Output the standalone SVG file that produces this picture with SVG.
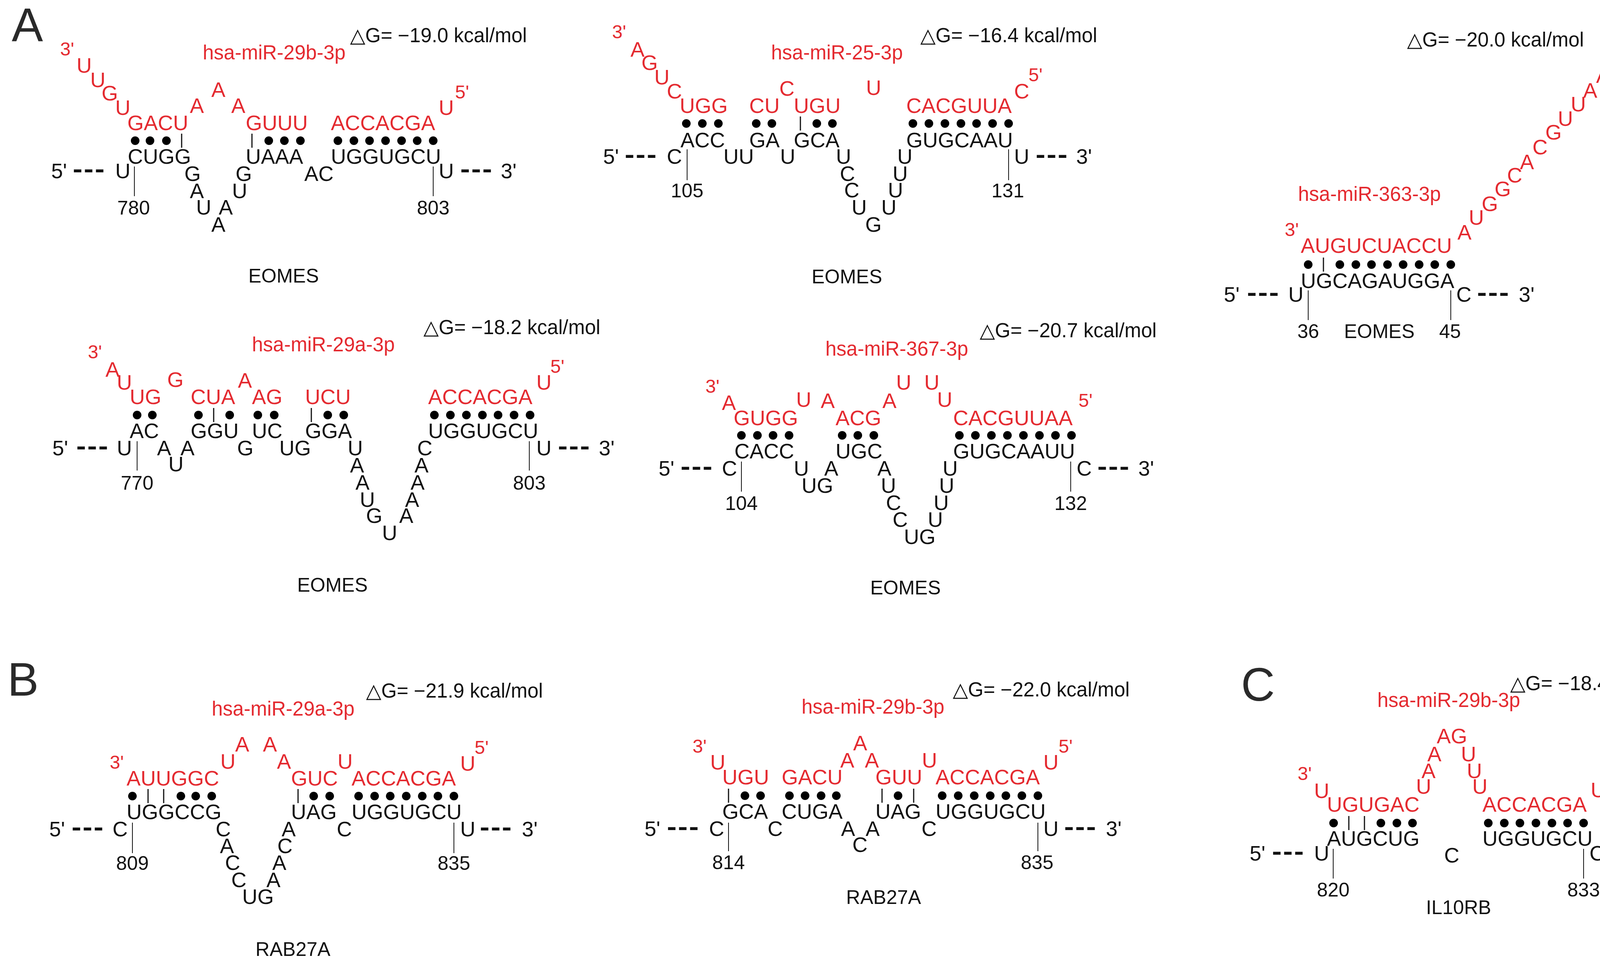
<svg xmlns="http://www.w3.org/2000/svg" width="4342" height="2459" viewBox="0 0 4342 2459">
<style>
text{font-family:"Liberation Sans",Arial,sans-serif;font-size:54px;fill:#111}
.r{fill:#e42a30}
.s{font-size:48px}
.m{text-anchor:middle;font-size:50px}
.g{font-size:51px}
.p{font-size:120px;fill:#2a2a2a}
.d{font-size:70px;letter-spacing:5px;stroke:#111;stroke-width:2}
line{stroke:#111;stroke-width:3}
.tk{stroke-width:2}
circle{fill:#000}
</style>
<rect width="4342" height="2459" fill="#fff"/>
<text class="p" x="30" y="105">A</text>
<text class="p" x="19" y="1780">B</text>
<text class="p" x="3177" y="1793">C</text>

<g id="A1">
<text class="g" x="896" y="108">△G= −19.0 kcal/mol</text>
<text class="r g" x="519" y="152">hsa-miR-29b-3p</text>
<text class="r s" x="154" y="142">3'</text>
<text class="r" x="196" y="186">U</text><text class="r" x="231" y="223">U</text><text class="r" x="260" y="257">G</text><text class="r" x="295" y="294">U</text>
<text class="r" x="326" y="333">GACU</text>
<text class="r" x="486" y="289">A</text><text class="r" x="541" y="248">A</text><text class="r" x="592" y="289">A</text>
<text class="r" x="629" y="333">GUUU</text>
<text class="r" x="847" y="333">ACCACGA</text>
<text class="r" x="1123" y="294">U</text><text class="r s" x="1165" y="252">5'</text>
<g><circle cx="346" cy="360" r="11"/><circle cx="384" cy="360" r="11"/><circle cx="426" cy="360" r="11"/><line x1="465" y1="342" x2="465" y2="378"/><line x1="645" y1="342" x2="645" y2="378"/><circle cx="688" cy="360" r="11"/><circle cx="728" cy="360" r="11"/><circle cx="769" cy="360" r="11"/><circle cx="865" cy="360" r="11"/><circle cx="906" cy="360" r="11"/><circle cx="946" cy="360" r="11"/><circle cx="987" cy="360" r="11"/><circle cx="1028" cy="360" r="11"/><circle cx="1068" cy="360" r="11"/><circle cx="1109" cy="360" r="11"/></g>
<text x="327" y="419">CUGG</text><text x="629" y="419">UAAA</text><text x="847" y="419">UGGUGCU</text>
<text x="131" y="456">5'</text><text class="d" x="187" y="456">---</text><text x="295" y="456">U</text>
<text x="472" y="463">G</text><text x="603" y="463">G</text><text x="779" y="463">AC</text>
<text x="486" y="507">A</text><text x="594" y="507">U</text>
<text x="502" y="549">U</text><text x="560" y="549">A</text>
<text x="541" y="593">A</text>
<text x="1123" y="456">U</text><text class="d" x="1179" y="456">---</text><text x="1282" y="456">3'</text>
<line class="tk" x1="344" y1="426" x2="344" y2="502"/><line class="tk" x1="1109" y1="426" x2="1109" y2="502"/>
<text class="m" x="342" y="549">780</text><text class="m" x="1109" y="549">803</text>
<text class="m" x="726" y="723">EOMES</text>
</g>

<g id="A2">
<text class="g" x="2356" y="108">△G= −16.4 kcal/mol</text>
<text class="r g" x="1974" y="152">hsa-miR-25-3p</text>
<text class="r s" x="1567" y="98">3'</text>
<text class="r" x="1614" y="145">A</text><text class="r" x="1642" y="179">G</text><text class="r" x="1675" y="216">U</text><text class="r" x="1707" y="252">C</text>
<text class="r" x="1740" y="289">UGG</text><text class="r" x="1918" y="289">CU</text><text class="r" x="2032" y="289">UGU</text>
<text class="r" x="1995" y="245">C</text><text class="r" x="2217" y="243">U</text>
<text class="r" x="2320" y="289">CACGUUA</text>
<text class="r" x="2596" y="252">C</text><text class="r s" x="2633" y="208">5'</text>
<g><circle cx="1757" cy="316" r="11"/><circle cx="1798" cy="316" r="11"/><circle cx="1839" cy="316" r="11"/><circle cx="1936" cy="316" r="11"/><circle cx="1976" cy="316" r="11"/><line x1="2049" y1="298" x2="2049" y2="334"/><circle cx="2091" cy="316" r="11"/><circle cx="2131" cy="316" r="11"/><circle cx="2337" cy="316" r="11"/><circle cx="2378" cy="316" r="11"/><circle cx="2419" cy="316" r="11"/><circle cx="2460" cy="316" r="11"/><circle cx="2500" cy="316" r="11"/><circle cx="2541" cy="316" r="11"/><circle cx="2582" cy="316" r="11"/></g>
<text x="1742" y="377">ACC</text><text x="1918" y="377">GA</text><text x="2032" y="377">GCA</text><text x="2320" y="377">GUGCAAU</text>
<text x="1544" y="419">5'</text><text class="d" x="1600" y="419">---</text><text x="1707" y="419">C</text>
<text x="1852" y="419">UU</text><text x="1997" y="419">U</text><text x="2140" y="419">U</text><text x="2297" y="419">U</text>
<text x="2150" y="463">C</text><text x="2285" y="463">U</text>
<text x="2161" y="505">C</text><text x="2273" y="505">U</text>
<text x="2180" y="549">U</text><text x="2256" y="549">U</text>
<text x="2215" y="593">G</text>
<text x="2596" y="419">U</text><text class="d" x="2652" y="419">---</text><text x="2755" y="419">3'</text>
<line class="tk" x1="1759" y1="382" x2="1759" y2="461"/><line class="tk" x1="2582" y1="382" x2="2582" y2="461"/>
<text class="m" x="1759" y="505">105</text><text class="m" x="2580" y="505">131</text>
<text class="m" x="2168" y="725">EOMES</text>
</g>

<g id="A3">
<text class="g" x="3602" y="119">△G= −20.0 kcal/mol</text>
<text class="r s" x="4123" y="168">5'</text>
<text class="r" x="4086" y="212">A</text><text class="r" x="4053" y="250">A</text><text class="r" x="4021" y="285">U</text><text class="r" x="3988" y="322">U</text><text class="r" x="3956" y="357">G</text><text class="r" x="3923" y="395">C</text><text class="r" x="3891" y="433">A</text><text class="r" x="3858" y="467">C</text><text class="r" x="3826" y="502">G</text><text class="r" x="3793" y="540">G</text><text class="r" x="3760" y="575">U</text><text class="r" x="3731" y="613">A</text>
<text class="r g" x="3323" y="514">hsa-miR-363-3p</text>
<text class="r s" x="3289" y="604">3'</text>
<text class="r" x="3330" y="647">AUGUCUACCU</text>
<g><circle cx="3349" cy="677" r="11"/><line x1="3388" y1="659" x2="3388" y2="695"/><circle cx="3430" cy="677" r="11"/><circle cx="3471" cy="677" r="11"/><circle cx="3511" cy="677" r="11"/><circle cx="3552" cy="677" r="11"/><circle cx="3592" cy="677" r="11"/><circle cx="3633" cy="677" r="11"/><circle cx="3673" cy="677" r="11"/><circle cx="3714" cy="677" r="11"/></g>
<text x="3330" y="737">UGCAGAUGGA</text>
<text x="3133" y="772">5'</text><text class="d" x="3193" y="772">---</text><text x="3298" y="772">U</text>
<text x="3728" y="772">C</text><text class="d" x="3782" y="772">---</text><text x="3888" y="772">3'</text>
<line class="tk" x1="3349" y1="743" x2="3349" y2="819"/><line class="tk" x1="3714" y1="743" x2="3714" y2="819"/>
<text class="m" x="3349" y="865">36</text><text class="m" x="3531" y="865">EOMES</text><text class="m" x="3712" y="865">45</text>
</g>

<g id="A4">
<text class="g" x="1084" y="855">△G= −18.2 kcal/mol</text>
<text class="r g" x="645" y="899">hsa-miR-29a-3p</text>
<text class="r s" x="225" y="917">3'</text>
<text class="r" x="270" y="964">A</text><text class="r" x="299" y="997">U</text><text class="r" x="428" y="990">G</text><text class="r" x="609" y="992">A</text>
<text class="r" x="1373" y="997">U</text><text class="r s" x="1409" y="954">5'</text>
<text class="r" x="332" y="1034">UG</text><text class="r" x="488" y="1034">CUA</text><text class="r" x="645" y="1034">AG</text><text class="r" x="781" y="1034">UCU</text><text class="r" x="1096" y="1034">ACCACGA</text>
<g><circle cx="351" cy="1062" r="11"/><circle cx="390" cy="1062" r="11"/><circle cx="508" cy="1062" r="11"/><line x1="547" y1="1044" x2="547" y2="1080"/><circle cx="588" cy="1062" r="11"/><circle cx="660" cy="1062" r="11"/><circle cx="702" cy="1062" r="11"/><line x1="797" y1="1044" x2="797" y2="1080"/><circle cx="839" cy="1062" r="11"/><circle cx="880" cy="1062" r="11"/><circle cx="1112" cy="1062" r="11"/><circle cx="1153" cy="1062" r="11"/><circle cx="1194" cy="1062" r="11"/><circle cx="1235" cy="1062" r="11"/><circle cx="1275" cy="1062" r="11"/><circle cx="1316" cy="1062" r="11"/><circle cx="1357" cy="1062" r="11"/></g>
<text x="332" y="1121">AC</text><text x="488" y="1121">GGU</text><text x="645" y="1121">UC</text><text x="781" y="1121">GGA</text><text x="1096" y="1121">UGGUGCU</text>
<text x="134" y="1165">5'</text><text class="d" x="196" y="1165">---</text><text x="299" y="1165">U</text>
<text x="402" y="1165">A</text><text x="462" y="1165">A</text><text x="607" y="1165">G</text><text x="715" y="1165">UG</text><text x="890" y="1165">U</text><text x="1068" y="1165">C</text>
<text x="1373" y="1165">U</text><text class="d" x="1429" y="1165">---</text><text x="1533" y="1165">3'</text>
<text x="431" y="1206">U</text><text x="896" y="1209">A</text><text x="1061" y="1209">A</text>
<text x="910" y="1253">A</text><text x="1051" y="1253">A</text>
<text x="921" y="1297">U</text><text x="1037" y="1297">A</text>
<text x="937" y="1338">G</text><text x="1022" y="1338">A</text>
<text x="978" y="1382">U</text>
<line class="tk" x1="351" y1="1129" x2="351" y2="1204"/><line class="tk" x1="1355" y1="1129" x2="1355" y2="1204"/>
<text class="m" x="351" y="1253">770</text><text class="m" x="1355" y="1253">803</text>
<text class="m" x="851" y="1514">EOMES</text>
</g>

<g id="A5">
<text class="g" x="2508" y="863">△G= −20.7 kcal/mol</text>
<text class="r g" x="2113" y="910">hsa-miR-367-3p</text>
<text class="r s" x="1806" y="1005">3'</text>
<text class="r" x="1848" y="1049">A</text><text class="r" x="2038" y="1041">U</text><text class="r" x="2101" y="1044">A</text><text class="r" x="2294" y="997">U</text><text class="r" x="2366" y="997">U</text><text class="r" x="2259" y="1044">A</text><text class="r" x="2399" y="1041">U</text>
<text class="r s" x="2761" y="1041">5'</text>
<text class="r" x="1878" y="1088">GUGG</text><text class="r" x="2139" y="1088">ACG</text><text class="r" x="2440" y="1088">CACGUUAA</text>
<g><circle cx="1898" cy="1114" r="11"/><circle cx="1939" cy="1114" r="11"/><circle cx="1979" cy="1114" r="11"/><circle cx="2020" cy="1114" r="11"/><circle cx="2156" cy="1114" r="11"/><circle cx="2196" cy="1114" r="11"/><circle cx="2237" cy="1114" r="11"/><circle cx="2456" cy="1114" r="11"/><circle cx="2497" cy="1114" r="11"/><circle cx="2538" cy="1114" r="11"/><circle cx="2579" cy="1114" r="11"/><circle cx="2620" cy="1114" r="11"/><circle cx="2661" cy="1114" r="11"/><circle cx="2702" cy="1114" r="11"/><circle cx="2743" cy="1114" r="11"/></g>
<text x="1880" y="1173">CACC</text><text x="2139" y="1173">UGC</text><text x="2440" y="1173">GUGCAAUU</text>
<text x="1686" y="1217">5'</text><text class="d" x="1743" y="1217">---</text><text x="1848" y="1217">C</text>
<text x="2032" y="1217">U</text><text x="2110" y="1217">A</text><text x="2246" y="1217">A</text><text x="2413" y="1217">U</text>
<text x="2756" y="1217">C</text><text class="d" x="2810" y="1217">---</text><text x="2914" y="1217">3'</text>
<text x="2052" y="1261">UG</text><text x="2255" y="1261">U</text><text x="2404" y="1261">U</text>
<text x="2268" y="1305">C</text><text x="2390" y="1305">U</text>
<text x="2285" y="1348">C</text><text x="2375" y="1348">U</text>
<text x="2314" y="1392">UG</text>
<line class="tk" x1="1898" y1="1181" x2="1898" y2="1258"/><line class="tk" x1="2741" y1="1181" x2="2741" y2="1258"/>
<text class="m" x="1898" y="1305">104</text><text class="m" x="2741" y="1305">132</text>
<text class="m" x="2318" y="1521">EOMES</text>
</g>

<g id="B1">
<text class="g" x="937" y="1785">△G= −21.9 kcal/mol</text>
<text class="r g" x="542" y="1831">hsa-miR-29a-3p</text>
<text class="r s" x="281" y="1967">3'</text>
<text class="r" x="602" y="1923">A</text><text class="r" x="673" y="1923">A</text>
<text class="r" x="564" y="1967">U</text><text class="r" x="709" y="1967">A</text><text class="r" x="864" y="1967">U</text><text class="r" x="1178" y="1972">U</text><text class="r s" x="1215" y="1929">5'</text>
<text class="r" x="324" y="2010">AUUGGC</text><text class="r" x="745" y="2010">GUC</text><text class="r" x="900" y="2010">ACCACGA</text>
<g><circle cx="339" cy="2037" r="11"/><line x1="379" y1="2019" x2="379" y2="2055"/><line x1="419" y1="2019" x2="419" y2="2055"/><circle cx="463" cy="2037" r="11"/><circle cx="501" cy="2037" r="11"/><circle cx="542" cy="2037" r="11"/><line x1="763" y1="2019" x2="763" y2="2055"/><circle cx="803" cy="2037" r="11"/><circle cx="844" cy="2037" r="11"/><circle cx="918" cy="2037" r="11"/><circle cx="959" cy="2037" r="11"/><circle cx="999" cy="2037" r="11"/><circle cx="1040" cy="2037" r="11"/><circle cx="1081" cy="2037" r="11"/><circle cx="1121" cy="2037" r="11"/><circle cx="1162" cy="2037" r="11"/></g>
<text x="324" y="2096">UGGCCG</text><text x="745" y="2096">UAG</text><text x="900" y="2096">UGGUGCU</text>
<text x="126" y="2140">5'</text><text class="d" x="184" y="2140">---</text><text x="288" y="2140">C</text>
<text x="552" y="2140">C</text><text x="721" y="2140">A</text><text x="862" y="2140">C</text>
<text x="1178" y="2140">U</text><text class="d" x="1229" y="2140">---</text><text x="1336" y="2140">3'</text>
<text x="563" y="2183">A</text><text x="710" y="2183">C</text>
<text x="576" y="2226">C</text><text x="697" y="2226">A</text>
<text x="592" y="2270">C</text><text x="682" y="2270">A</text>
<text x="620" y="2313">UG</text>
<line class="tk" x1="339" y1="2105" x2="339" y2="2183"/><line class="tk" x1="1162" y1="2105" x2="1162" y2="2183"/>
<text class="m" x="339" y="2226">809</text><text class="m" x="1162" y="2226">835</text>
<text class="m" x="750" y="2446">RAB27A</text>
</g>

<g id="B2">
<text class="g" x="2439" y="1782">△G= −22.0 kcal/mol</text>
<text class="r g" x="2052" y="1826">hsa-miR-29b-3p</text>
<text class="r s" x="1773" y="1926">3'</text>
<text class="r" x="1818" y="1969">U</text>
<text class="r" x="2184" y="1920">A</text><text class="r" x="2151" y="1964">A</text><text class="r" x="2214" y="1964">A</text><text class="r" x="2360" y="1964">U</text>
<text class="r" x="2671" y="1969">U</text><text class="r s" x="2710" y="1926">5'</text>
<text class="r" x="1849" y="2007">UGU</text><text class="r" x="2001" y="2007">GACU</text><text class="r" x="2241" y="2007">GUU</text><text class="r" x="2395" y="2007">ACCACGA</text>
<g><line x1="1865" y1="2018" x2="1865" y2="2054"/><circle cx="1907" cy="2036" r="11"/><circle cx="1947" cy="2036" r="11"/><circle cx="2021" cy="2036" r="11"/><circle cx="2061" cy="2036" r="11"/><circle cx="2102" cy="2036" r="11"/><circle cx="2141" cy="2036" r="11"/><line x1="2258" y1="2018" x2="2258" y2="2054"/><circle cx="2299" cy="2036" r="11"/><line x1="2339" y1="2018" x2="2339" y2="2054"/><circle cx="2412" cy="2036" r="11"/><circle cx="2453" cy="2036" r="11"/><circle cx="2494" cy="2036" r="11"/><circle cx="2535" cy="2036" r="11"/><circle cx="2575" cy="2036" r="11"/><circle cx="2616" cy="2036" r="11"/><circle cx="2657" cy="2036" r="11"/></g>
<text x="1849" y="2095">GCA</text><text x="2001" y="2095">CUGA</text><text x="2241" y="2095">UAG</text><text x="2395" y="2095">UGGUGCU</text>
<text x="1650" y="2139">5'</text><text class="d" x="1708" y="2139">---</text><text x="1815" y="2139">C</text>
<text x="1965" y="2139">C</text><text x="2153" y="2139">A</text><text x="2216" y="2139">A</text><text x="2359" y="2139">C</text>
<text x="2671" y="2139">U</text><text class="d" x="2725" y="2139">---</text><text x="2831" y="2139">3'</text>
<text x="2182" y="2180">C</text>
<line class="tk" x1="1865" y1="2105" x2="1865" y2="2178"/><line class="tk" x1="2657" y1="2105" x2="2657" y2="2178"/>
<text class="m" x="1865" y="2224">814</text><text class="m" x="2655" y="2224">835</text>
<text class="m" x="2262" y="2313">RAB27A</text>
</g>

<g id="C1">
<text class="g" x="3866" y="1766">△G= −18.4 kcal/mol</text>
<text class="r g" x="3526" y="1809">hsa-miR-29b-3p</text>
<text class="r" x="3678" y="1902">AG</text>
<text class="r" x="3654" y="1948">A</text><text class="r" x="3740" y="1948">U</text>
<text class="r" x="3639" y="1991">A</text><text class="r" x="3755" y="1991">U</text>
<text class="r s" x="3322" y="1996">3'</text><text class="r s" x="4108" y="1996">5'</text>
<text class="r" x="3364" y="2042">U</text><text class="r" x="3625" y="2031">U</text><text class="r" x="3769" y="2031">U</text><text class="r" x="4072" y="2040">U</text>
<text class="r" x="3397" y="2077">UGUGAC</text><text class="r" x="3795" y="2077">ACCACGA</text>
<g><circle cx="3414" cy="2106" r="11"/><line x1="3453" y1="2088" x2="3453" y2="2124"/><line x1="3493" y1="2088" x2="3493" y2="2124"/><circle cx="3535" cy="2106" r="11"/><circle cx="3576" cy="2106" r="11"/><circle cx="3616" cy="2106" r="11"/><circle cx="3810" cy="2106" r="11"/><circle cx="3851" cy="2106" r="11"/><circle cx="3891" cy="2106" r="11"/><circle cx="3932" cy="2106" r="11"/><circle cx="3973" cy="2106" r="11"/><circle cx="4013" cy="2106" r="11"/><circle cx="4054" cy="2106" r="11"/></g>
<text x="3397" y="2164">AUGCUG</text><text x="3795" y="2164">UGGUGCU</text>
<text x="3199" y="2202">5'</text><text class="d" x="3257" y="2202">---</text><text x="3364" y="2202">U</text>
<text x="3697" y="2207">C</text>
<text x="4069" y="2202">C</text><text class="d" x="4126" y="2202">---</text><text x="4229" y="2202">3'</text>
<line class="tk" x1="3413" y1="2172" x2="3413" y2="2248"/><line class="tk" x1="4054" y1="2172" x2="4054" y2="2248"/>
<text class="m" x="3413" y="2294">820</text><text class="m" x="4054" y="2294">833</text>
<text class="m" x="3734" y="2339">IL10RB</text>
</g>
<g id="connectors"/>
</svg>
